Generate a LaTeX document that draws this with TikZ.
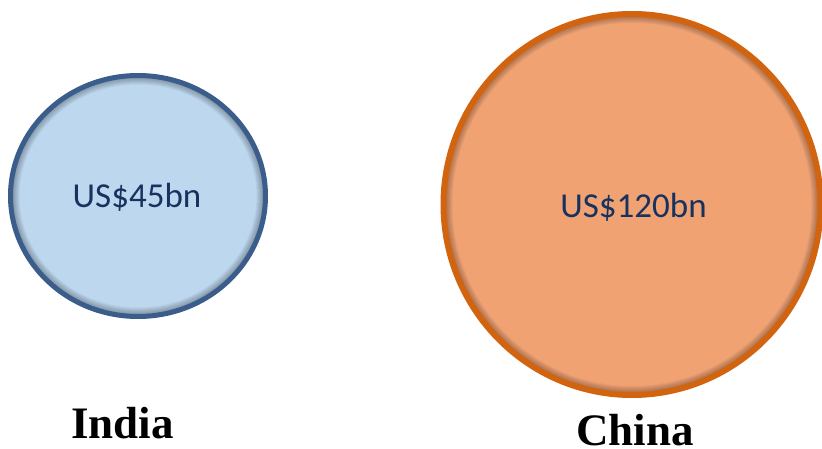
\documentclass[tikz,border=0pt]{standalone}
\usepackage{fontspec}
\setmainfont{Liberation Serif}
\newfontfamily\valfont{Carlito}
\usepackage{xcolor}
\usepackage{tikz}

\definecolor{indiafill}{HTML}{BDD7EE}
\definecolor{indiaedge}{HTML}{3B5D8B}
\definecolor{chinafill}{HTML}{F0A273}
\definecolor{chinaedge}{HTML}{D2640F}
\definecolor{valtext}{HTML}{17325F}

\begin{document}
\begin{tikzpicture}[x=1pt, y=-1pt,
  value/.style={anchor=base, text=valtext, font=\valfont\fontsize{35}{35}\selectfont},
  country/.style={anchor=base, inner sep=0pt, font=\bfseries\fontsize{45}{45}\selectfont},
  shade ring/.style={draw=black, opacity=0.045}]
  \useasboundingbox (0,0) rectangle (822,449);

  % India bubble
  \fill[indiafill] (138,196) ellipse [x radius=127.5, y radius=120.5];
  \begin{scope}
    \clip (138,196) ellipse [x radius=127.5, y radius=120.5];
    \foreach \w in {2,4,...,18}
      \draw[shade ring, line width=\w pt] (138,196) ellipse [x radius=127.5, y radius=120.5];
  \end{scope}
  \draw[indiaedge, line width=5pt] (138,196) ellipse [x radius=127.5, y radius=120.5];

  % China bubble
  \fill[chinafill] (632,204.5) ellipse [x radius=188.5, y radius=190.5];
  \begin{scope}
    \clip (632,204.5) ellipse [x radius=188.5, y radius=190.5];
    \foreach \w in {2,4,...,18}
      \draw[shade ring, line width=\w pt] (632,204.5) ellipse [x radius=188.5, y radius=190.5];
  \end{scope}
  \draw[chinaedge, line width=6pt] (632,204.5) ellipse [x radius=188.5, y radius=190.5];

  % Values and labels
  \node[value] (indiaval) at (137,208) {US\$45bn};
  \node[value] (chinaval) at (633.5,218) {US\$120bn};
  \node[country] (indialbl) at (122.5,438) {India};
  \node[country] (chinalbl) at (635,445) {China};
\end{tikzpicture}
\end{document}
